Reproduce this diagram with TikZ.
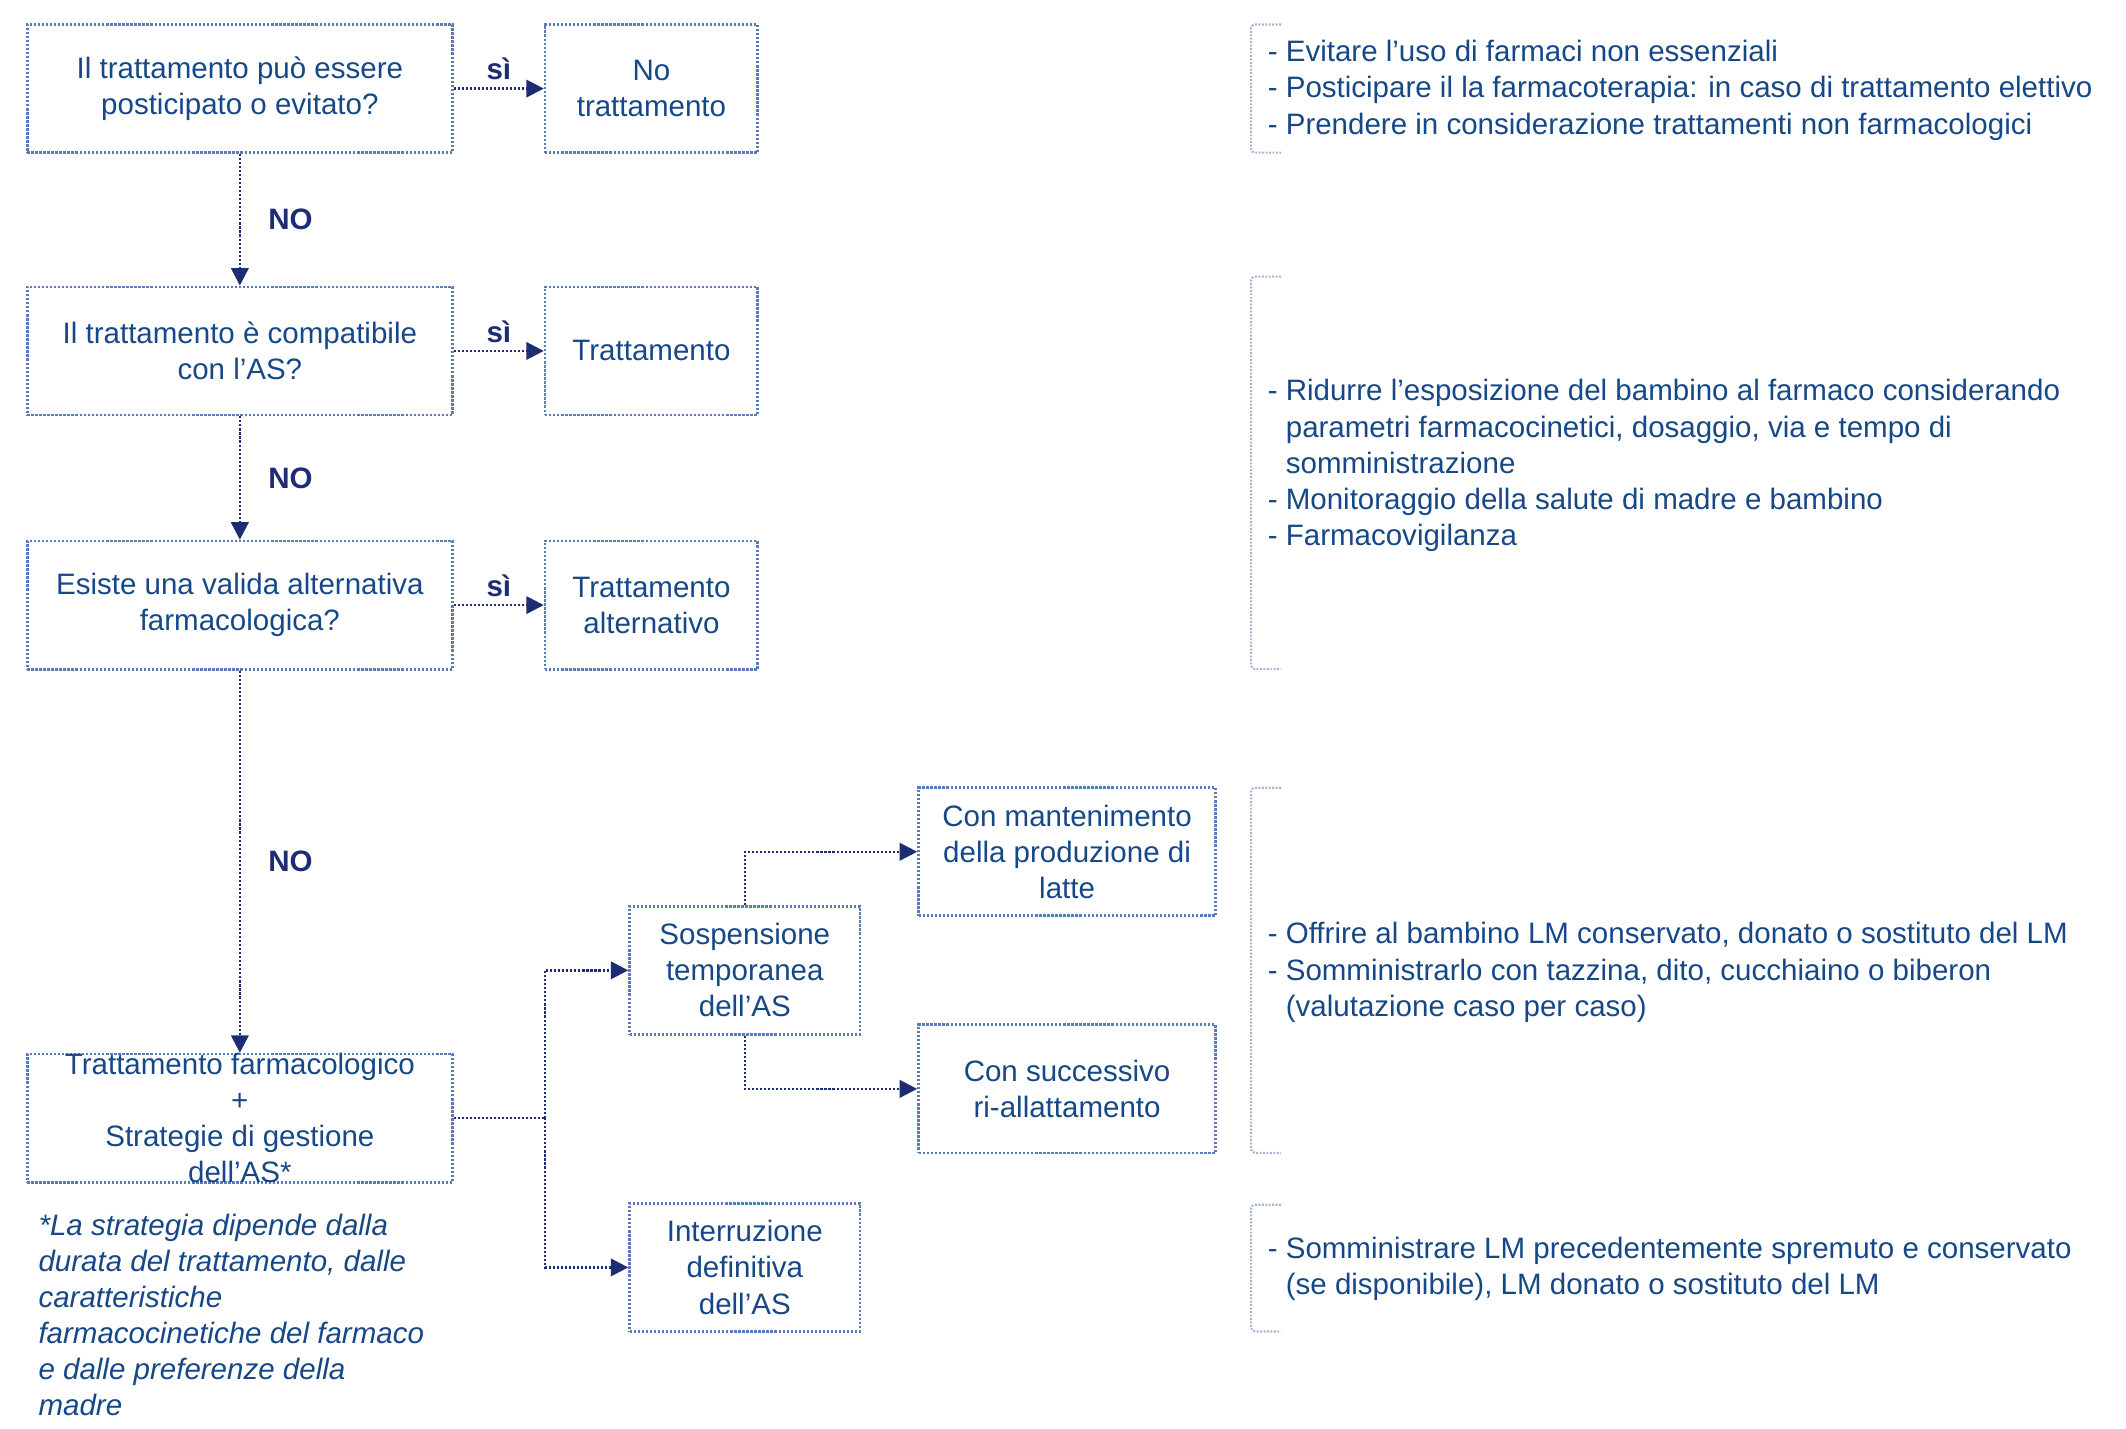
\documentclass[tikz,border=0pt]{standalone}
\usepackage{fontspec}
\setmainfont{Liberation Sans}
\usetikzlibrary{arrows.meta}
\definecolor{asblue}{RGB}{22,72,136}
\definecolor{asnavy}{RGB}{30,44,116}
\definecolor{asedge}{RGB}{90,124,180}
\definecolor{asbracket}{RGB}{165,180,208}
\begin{document}
\begin{tikzpicture}[x=0.025cm, y=-0.025cm,
        every node/.style={text=asblue, font=\fontsize{15.4}{18.8}\selectfont},
        box/.style={draw=asedge, line width=1.4pt, dash pattern=on 1.2pt off 0.9pt, align=center, inner sep=0pt, minimum height=23.5mm},
        wide/.style={box, minimum width=78mm},
        narrow/.style={box, minimum width=39mm},
        mid/.style={box, minimum width=42.25mm},
        long/.style={box, minimum width=54.5mm},
        wire/.style={draw=asnavy, line width=1.3pt, dash pattern=on 1.1pt off 1pt},
        link/.style={wire, -{Triangle[length=3.2mm, width=3.2mm]}},
        lbl/.style={text=asnavy, font=\fontsize{15.4}{18.8}\selectfont\bfseries, inner sep=0pt},
        note/.style={anchor=west, align=left, inner sep=0pt},
        foot/.style={note, font=\fontsize{15.4}{18.8}\selectfont\itshape},
        bracket/.style={draw=asbracket, line width=1.1pt, dash pattern=on 1pt off 0.8pt, rounded corners=2pt}]
    \useasboundingbox (0,0) rectangle (1560,1048.5);

    % left column
    \node[wide] (post) at (176,65) {Il trattamento può essere\\posticipato o evitato?};
    \node[narrow] (notratt) at (478,65) {No\\trattamento};
    \node[wide] (compat) at (176,257.5) {Il trattamento è compatibile\\con l'AS?};
    \node[narrow] (tratt) at (478,257.5) {Trattamento};
    \node[wide] (altern) at (176,444) {Esiste una valida alternativa\\farmacologica?};
    \node[narrow] (trattalt) at (478,444) {Trattamento\\alternativo};
    \node[wide, inner ysep=-1mm] (farm) at (176,820.5) {Trattamento farmacologico\\+\\Strategie di gestione\\dell'AS*};
    \node[foot] (footnote) at (28,965) {*La strategia dipende dalla\\durata del trattamento, dalle\\caratteristiche\\farmacocinetiche del farmaco\\e dalle preferenze della\\madre};

    % strategie
    \coordinate (fork) at (400,820.5);
    \node[mid] (susp) at (546.5,712) {Sospensione\\temporanea\\dell'AS};
    \node[mid] (interr) at (546.5,930) {Interruzione\\definitiva\\dell'AS};
    \node[long] (mant) at (783,625) {Con mantenimento\\della produzione di\\latte};
    \node[long] (riall) at (783,799) {Con successivo\\ri-allattamento};

    \draw[link] (post) to node[lbl, above=1.3mm] {sì} (notratt);
    \draw[link] (compat) to node[lbl, above=1.3mm] {sì} (tratt);
    \draw[link] (altern) to node[lbl, above=1.3mm] {sì} (trattalt);
    \draw[link] (post) to node[lbl, right=5mm] {NO} (compat);
    \draw[link] (compat) to node[lbl, right=5mm] {NO} (altern);
    \draw[link] (altern) to node[lbl, right=5mm] {NO} (farm);
    \draw[wire] (farm) -- (fork);
    \draw[link] (fork) |- (susp);
    \draw[link] (fork) |- (interr);
    \draw[link] (susp.north) |- (mant);
    \draw[link] (susp.south) |- (riall);

    % note a destra
    \node[note] (noteA) at (930,66.3) {- Evitare l'uso di farmaci non essenziali\\- Posticipare il la farmacoterapia: in caso di trattamento elettivo\\- Prendere in considerazione trattamenti non farmacologici};
    \node[note] (noteB) at (930,341.5) {- Ridurre l'esposizione del bambino al farmaco considerando\\\hphantom{- }parametri farmacocinetici, dosaggio, via e tempo di\\\hphantom{- }somministrazione\\- Monitoraggio della salute di madre e bambino\\- Farmacovigilanza};
    \node[note] (noteC) at (930,713.5) {- Offrire al bambino LM conservato, donato o sostituto del LM\\- Somministrarlo con tazzina, dito, cucchiaino o biberon\\\hphantom{- }(valutazione caso per caso)};
    \node[note] (noteD) at (930,931) {- Somministrare LM precedentemente spremuto e conservato\\\hphantom{- }(se disponibile), LM donato o sostituto del LM};

    \draw[bracket] (940,18) -- (918,18) -- (918,112) -- (940,112);
    \draw[bracket] (940,203) -- (918,203) -- (918,491) -- (940,491);
    \draw[bracket] (940,578) -- (918,578) -- (918,846) -- (940,846);
    \draw[bracket] (940,884) -- (918,884) -- (918,977) -- (940,977);
\end{tikzpicture}
\end{document}
